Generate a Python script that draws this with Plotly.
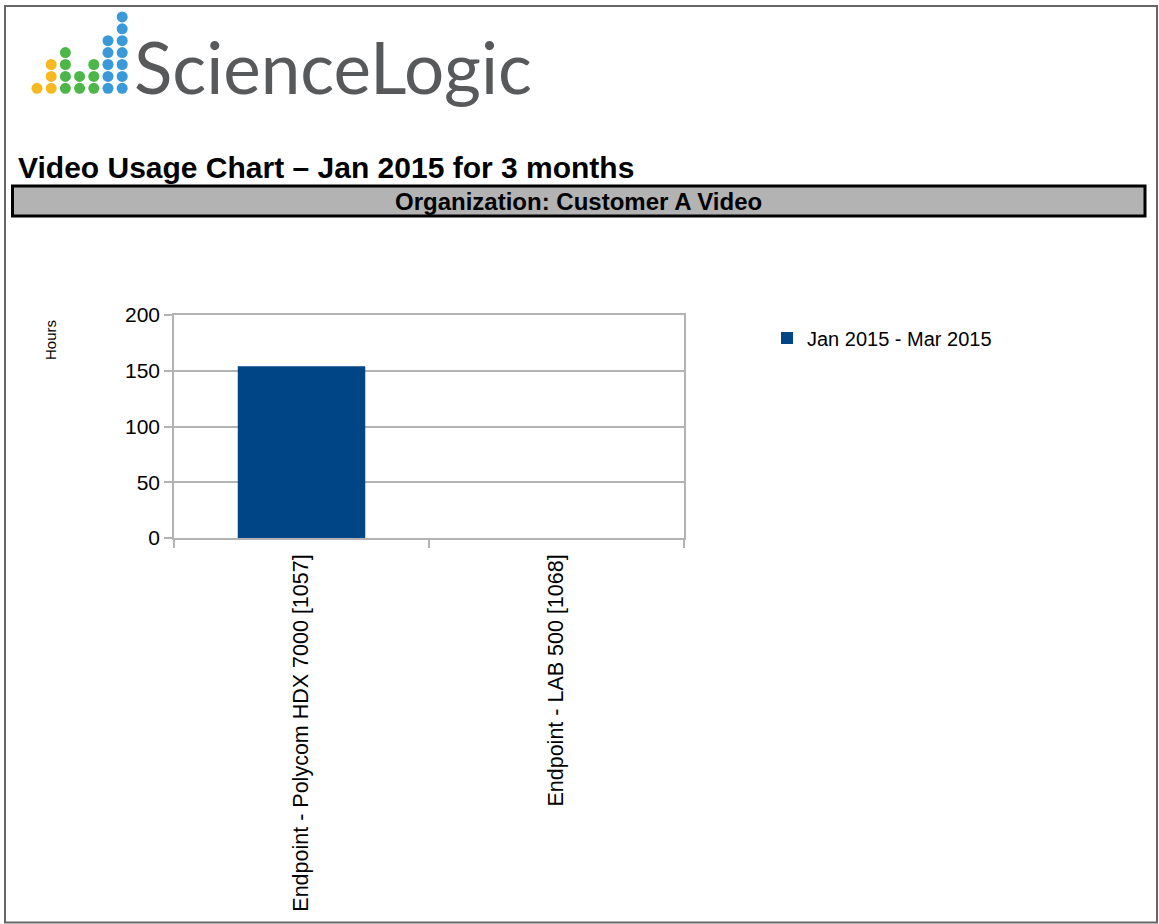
import plotly.graph_objects as go

# ---- data ----
categories = ["Endpoint - Polycom HDX 7000 [1057]", "Endpoint - LAB 500 [1068]"]
series_name = "Jan 2015 - Mar 2015"
hours = [154, 0]
y_ticks = [0, 50, 100, 150, 200]

report_title = "Video Usage Chart \u2013 Jan 2015 for 3 months"
org_label = "Organization: Customer A Video"
logo_text = "ScienceLogic"
logo_col_heights = [1, 3, 4, 2, 3, 5, 7]
logo_col_colors = ["#F6B921", "#F6B921", "#4CB748", "#4CB748", "#4CB748", "#3A99D8", "#3A99D8"]

# ---- layout geometry (page pixels) ----
W, H = 1159, 924
L, R, T, B = 174, 684, 315, 538  # plot area
PW, PH = R - L, B - T


def px(x):
    return (x - L) / PW


def py(y):
    return (B - y) / PH


fig = go.Figure()
fig.add_trace(go.Bar(
    x=categories, y=hours, name=series_name,
    marker=dict(color="#004586", line=dict(width=0)),
    width=0.5, showlegend=True,
))

shapes = []
# page border
shapes.append(dict(type="rect", xref="paper", yref="paper",
                   x0=px(5), x1=px(1157), y0=py(6), y1=py(922.5),
                   line=dict(color="#666666", width=2), layer="below"))
# organization bar
shapes.append(dict(type="rect", xref="paper", yref="paper",
                   x0=px(12.5), x1=px(1145), y0=py(186), y1=py(216),
                   fillcolor="#b3b3b3", line=dict(color="#000000", width=3), layer="below"))
# logo dots
r = 5.5
for i, (h, c) in enumerate(zip(logo_col_heights, logo_col_colors)):
    cx = 37.0 + 14.2 * i
    for j in range(h):
        cy = 88.3 - 11.9 * j
        shapes.append(dict(type="circle", xref="paper", yref="paper",
                           x0=px(cx - r), x1=px(cx + r), y0=py(cy + r), y1=py(cy - r),
                           fillcolor=c, line=dict(width=0)))

annotations = [
    dict(text=logo_text, xref="paper", yref="paper", x=px(132), y=py(67),
         xanchor="left", yanchor="middle", showarrow=False,
         font=dict(family="Lato", size=71, color="#58595b")),
    dict(text=f"<b>{report_title}</b>", xref="paper", yref="paper", x=px(16), y=py(167),
         xanchor="left", yanchor="middle", showarrow=False,
         font=dict(family="Liberation Sans", size=30, color="#000000")),
    dict(text=f"<b>{org_label}</b>", xref="paper", yref="paper", x=px(578), y=py(201),
         xanchor="center", yanchor="middle", showarrow=False,
         font=dict(family="Liberation Sans", size=24, color="#000000")),
    dict(text="Hours", xref="paper", yref="paper", x=px(50), y=py(340),
         xanchor="center", yanchor="middle", showarrow=False, textangle=-90,
         font=dict(family="Liberation Sans", size=15, color="#000000")),
]

fig.update_layout(
    width=W, height=H,
    margin=dict(l=L, r=W - R, t=T, b=H - B, pad=0),
    paper_bgcolor="white", plot_bgcolor="white",
    font=dict(family="Liberation Sans", size=21, color="#000000"),
    shapes=shapes, annotations=annotations,
    showlegend=True,
    legend=dict(x=px(767), y=py(338), xanchor="left", yanchor="middle",
                font=dict(family="Liberation Sans", size=20, color="#000000"),
                bgcolor="rgba(0,0,0,0)"),
    xaxis=dict(
        type="category", tickangle=-90, tickson="boundaries",
        ticks="outside", ticklen=8, tickcolor="#b3b3b3", tickwidth=1.5,
        showline=True, linecolor="#b3b3b3", linewidth=1.5, mirror=True,
        showgrid=False, tickfont=dict(size=21.5), ticklabelstandoff=6,
    ),
    yaxis=dict(
        range=[0, 200], tickvals=y_ticks, ticktext=[str(v) for v in y_ticks],
        ticks="outside", ticklen=8, tickcolor="#b3b3b3", tickwidth=1.5,
        showline=True, linecolor="#b3b3b3", linewidth=1.5, mirror=True,
        showgrid=True, gridcolor="#b3b3b3", gridwidth=1.5, zeroline=False,
        tickfont=dict(size=21),
    ),
)

fig.write_html(
    "out.html",
    config={"displayModeBar": False},
    post_script="document.body.style.margin='0';document.body.style.overflow='hidden';",
)
